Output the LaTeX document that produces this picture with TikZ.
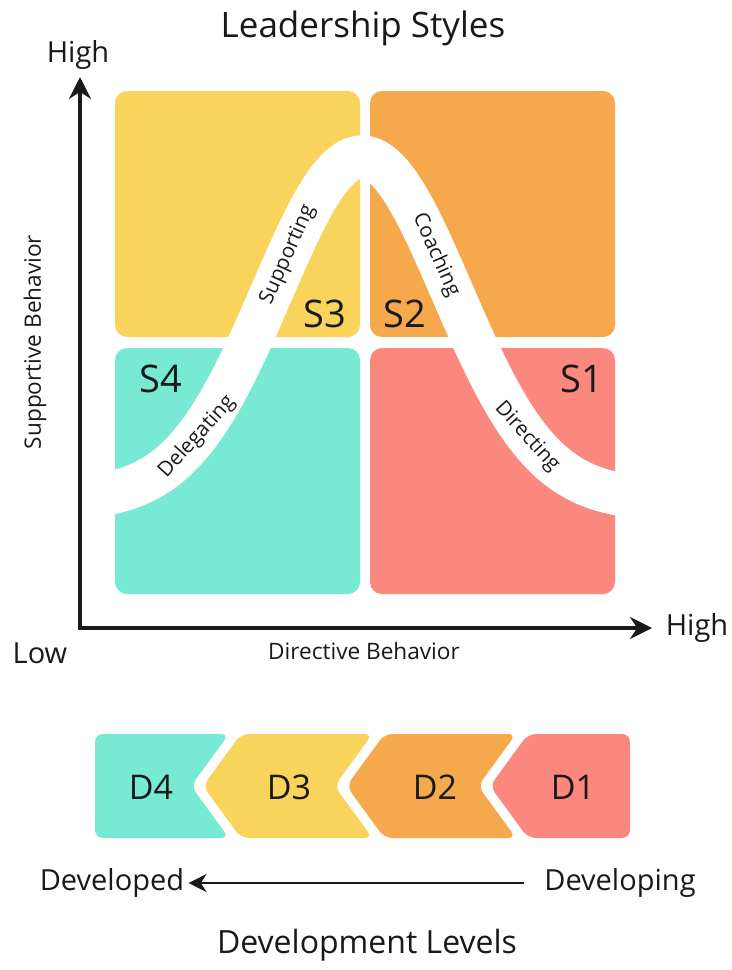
\documentclass[tikz,border=0pt]{standalone}
\usepackage{fontspec}
\setmainfont{Open Sans}
\usetikzlibrary{arrows.meta}

\definecolor{lsYellow}{RGB}{248,212,92}
\definecolor{lsOrange}{RGB}{245,168,76}
\definecolor{lsTeal}{RGB}{120,234,211}
\definecolor{lsRed}{RGB}{250,136,127}
\definecolor{lsText}{RGB}{25,25,25}

\newcommand\fsize[1]{\fontsize{#1}{#1}\selectfont}
\newcommand\levelpiece[7]{
		\fill[#6,rounded corners=4pt] (#2,734) -- (#4,734) -- (#5,786) -- (#4,838) -- (#2,838) -- (#3,786) -- cycle;
		\node (#1) at (#7,787) [levelname] {\MakeUppercase{#1}};
	}

\tikzset{
	quadrant/.style={rounded corners=6pt,minimum width=122.5pt,minimum height=123pt,inner sep=0pt},
	band/.style={draw=white,line width=21.5pt},
	bandlabel/.style={font=\fsize{10.3},text=lsText,inner sep=0pt},
	stylename/.style={font=\fsize{19},text=lsText,inner sep=0pt},
	levelname/.style={font=\fsize{17},text=lsText,inner sep=0pt},
	axislabel/.style={font=\fsize{11.3},text=lsText,inner sep=0pt},
	endlabel/.style={font=\fsize{14.5},text=lsText,inner sep=0pt},
	axis/.style={line width=1.6pt,lsText,{Stealth[length=11pt,width=11pt]}-{Stealth[length=11pt,width=11pt]}},
	levelarrow/.style={line width=1.1pt,lsText,-{Stealth[length=9pt,width=9pt]}}
}

\begin{document}
\begin{tikzpicture}[x=0.5pt,y=-0.5pt]
		\useasboundingbox[fill=white] (0,0) rectangle (732,970);

		% draw quadrants
		\foreach \name/\x/\y/\col in {tl/237.5/214/lsYellow,tr/492.5/214/lsOrange,bl/237.5/471/lsTeal,br/492.5/471/lsRed}
		{
			\node (\name) at (\x,\y) [quadrant,fill=\col] {};
		}

		% draw style curve
		\draw[band] plot[domain=95:630,samples=140] (\x,{500-343*exp(-((\x-362)/127.5)*((\x-362)/127.5))});

		% draw curve labels
		\node (supporting) at (288,255) [bandlabel,rotate=66] {Supporting};
		\node (coaching) at (436,255) [bandlabel,rotate=-66] {Coaching};
		\node (delegating) at (197,437) [bandlabel,rotate=48] {Delegating};
		\node (directing) at (527,437) [bandlabel,rotate=-48] {Directing};

		% draw style names
		\node (s3) at (325,314) [stylename] {S3};
		\node (s2) at (405,314) [stylename] {S2};
		\node (s4) at (161,379) [stylename] {S4};
		\node (s1) at (582,379) [stylename] {S1};

		% draw axes
		\coordinate (origin) at (80,628);
		\coordinate (ytip) at (80,77);
		\coordinate (xtip) at (652,628);
		\draw[axis] (ytip) -- (origin) -- (xtip);

		% draw development levels
		\levelpiece{d4}{95}{95}{229}{191}{lsTeal}{151}
		\levelpiece{d3}{241}{203}{372.5}{334.5}{lsYellow}{289}
		\levelpiece{d2}{384.5}{346.5}{516}{478}{lsOrange}{435}
		\levelpiece{d1}{528}{490}{630}{630}{lsRed}{573}

		% draw text nodes
		\node (title) at (363,28) [font=\fsize{17.5},text=lsText] {Leadership Styles};
		\node (hightop) at (78,55) [endlabel] {High};
		\node (highright) at (697,628) [endlabel] {High};
		\node (low) at (40,653) [endlabel] {Low};
		\node (xname) at (364,651) [axislabel] {Directive Behavior};
		\node (yname) at (35,342) [axislabel,rotate=90] {Supportive Behavior};
		\node (developed) at (112,883) [endlabel] {Developed};
		\node (developing) at (620,883) [endlabel] {Developing};
		\node (levels) at (367,945) [font=\fsize{16},text=lsText] {Development Levels};

		% draw level arrow
		\draw[levelarrow,shorten <=10pt,shorten >=2pt] (developing.west) -- (developed.east);
	\end{tikzpicture}
\end{document}
